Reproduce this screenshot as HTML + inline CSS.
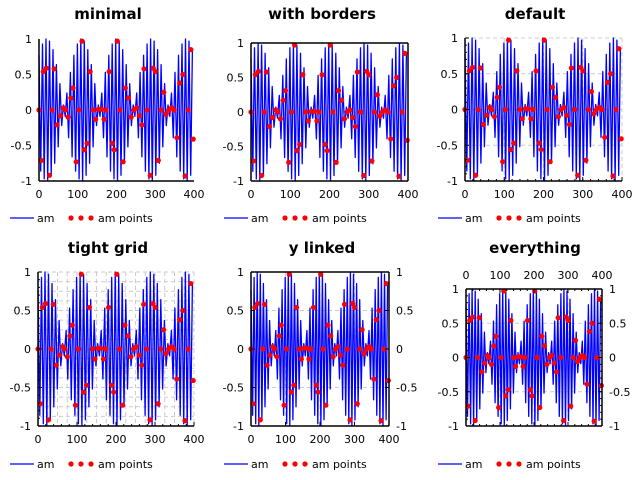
<!DOCTYPE html>
<html><head><meta charset="utf-8"><style>
html,body{margin:0;padding:0;background:#fff;}
svg{display:block;font-family:"DejaVu Sans","Liberation Sans",sans-serif;}
</style></head><body>
<svg id="c" width="640" height="480" xmlns="http://www.w3.org/2000/svg"></svg>
<script>
const xTicks=[0,100,200,300,400];
const yTicks=[-1,-0.5,0,0.5,1];
const yTickLabels=["-1","-0.5","0","0.5","1"];
const lineStep=4.5;
const amValues=[
0.77,-0.86,0.93,-0.97,1,-1,0.97,-0.92,0.85,-0.75,0.64,-0.52,0.37,-0.22,0.07,-0.09,0.24,-0.39,0.53,-0.66,
0.77,-0.86,0.93,-0.97,1,-1,0.97,-0.92,0.85,-0.75,0.64,-0.52,0.37,-0.22,0.07,-0.09,0.24,-0.39,0.53,-0.66,
0.77,-0.86,0.93,-0.97,1,-1,0.97,-0.92,0.85,-0.75,0.64,-0.52,0.37,-0.22,0.07,-0.09,0.24,-0.39,0.53,-0.66,
0.77,-0.86,0.93,-0.97,1,-1,0.97,-0.92,0.85,-0.75,0.64,-0.52,0.37,-0.22,0.07,-0.09,0.24,-0.39,0.53,-0.66,
0.77,-0.86,0.93,-0.97,1,-1,0.97,-0.92,0.85];
const pointX=[0,6,11,19,27,34,39,47,55,63,68,75,82,88,96,103,111,117,124,132,140,146,154,161,168,173,181,189,194,202,209,217,223,231,238,245,252,259,266,271,279,287,295,300,308,315,322,328,335,342,349,356,363,371,377,385,392,398];
const pointY=[0,-0.71,0.54,0.59,-0.92,0,0.58,-0.21,-0.08,0.03,0,-0.1,0.17,0.31,-0.73,0,0.97,-0.56,-0.47,0.54,0,-0.13,0.01,0.01,-0.13,0,0.54,-0.47,-0.56,0.97,0,-0.73,0.31,0.17,-0.1,0,0.03,-0.08,-0.21,0.58,0,-0.92,0.59,0.54,-0.71,0,0.25,-0.06,0,0.03,0,-0.39,0.38,0.5,-0.93,0,0.85,-0.41];

const svg=document.getElementById('c');
const NS='http://www.w3.org/2000/svg';
function mk(tag,attrs,parent,text){const e=document.createElementNS(NS,tag);for(const k in attrs)e.setAttribute(k,attrs[k]);if(text!==undefined)e.textContent=text;(parent||svg).appendChild(e);return e;}

const panels=[
 {name:'minimal',title:'minimal',x0:39,x1:194,y0:39,y1:181,cx:108,ty:19,ly:218,lx:0,border:false,grid:false,ticks:false,right:false,top:false,minor:false,bottom:true},
 {name:'with-borders',title:'with borders',x0:251,x1:408,y0:43,y1:181,cx:322,ty:19,ly:218,lx:214,border:true,grid:false,ticks:false,right:false,top:false,minor:false,bottom:true},
 {name:'default',title:'default',x0:465,x1:622,y0:38,y1:181,cx:535,ty:19,ly:218,lx:428,border:false,grid:true,ticks:true,right:false,top:false,minor:true,bottom:true},
 {name:'tight-grid',title:'tight grid',x0:38,x1:194,y0:272,y1:426,cx:108,ty:253,ly:464,lx:0,border:false,grid:true,ticks:true,right:false,top:false,minor:true,tight:true,bottom:true},
 {name:'y-linked',title:'y linked',x0:251,x1:389,y0:272,y1:426,cx:322,ty:253,ly:464,lx:214,border:true,grid:true,ticks:true,right:true,top:false,minor:false,bottom:true},
 {name:'everything',title:'everything',x0:466,x1:602,y0:289,y1:426,cx:535,ty:253,ly:464,lx:428,border:true,grid:true,ticks:true,right:true,top:true,minor:true,bottom:false}
];

panels.forEach(p=>{
 const g=mk('g',{});
 
 
 const sx=v=>p.x0+(v-0)/400*(p.x1-p.x0);
 const sy=v=>p.y1-(v+1)/2*(p.y1-p.y0);
 const t=mk('text',{x:p.cx,y:p.ty,'text-anchor':'middle','font-size':'15','font-weight':'bold',fill:'#000'},g,p.title);
 
 
 if(p.grid){
  const gg=mk('g',{stroke:'#ccc','stroke-width':'1','stroke-dasharray':'4,3'},g);
  
  
  const xs=p.tight?[25,50,75,100,125,150,175,200,225,250,275,300,325,350,375,400]:[100,200,300,400];
  const ys=p.tight?[-0.875,-0.75,-0.625,-0.5,-0.375,-0.25,-0.125,0,0.125,0.25,0.375,0.5,0.625,0.75,0.875,1]:[-0.5,0,0.5,1];
  xs.forEach(v=>mk('line',{x1:sx(v),x2:sx(v),y1:p.y0,y2:p.y1},gg));
  ys.forEach(v=>mk('line',{x1:p.x0,x2:p.x1,y1:sy(v),y2:sy(v)},gg));
 }
 let d='';
 amValues.forEach((v,i)=>{d+=(i?'L':'M')+sx(i*lineStep).toFixed(1)+','+sy(v).toFixed(1);});
 const ln=mk('path',{d:d,fill:'none',stroke:'#0000ff','stroke-width':'1.3','stroke-linejoin':'round'},g);
 
 
 const pg=mk('g',{fill:'#ff0000'},g);
 
 
 pointX.forEach((x,i)=>{const c=mk('circle',{cx:sx(x),cy:sy(pointY[i]),r:2.6},pg);
  
  });
 const ax=mk('g',{stroke:'#000','stroke-width':'1.5',fill:'none'},g);
 
 
 mk('line',{x1:p.x0,x2:p.x0,y1:p.y0,y2:p.y1},ax);
 mk('line',{x1:p.x0,x2:p.x1,y1:p.y1,y2:p.y1},ax);
 if(p.border){mk('line',{x1:p.x1,x2:p.x1,y1:p.y0,y2:p.y1},ax);mk('line',{x1:p.x0,x2:p.x1,y1:p.y0,y2:p.y0},ax);}
 if(p.ticks){
  const tk=mk('g',{stroke:'#000','stroke-width':'1'},g);
  xTicks.forEach(v=>{mk('line',{x1:sx(v),x2:sx(v),y1:p.y1,y2:p.y1-4},tk);if(p.top)mk('line',{x1:sx(v),x2:sx(v),y1:p.y0,y2:p.y0+4},tk);});
  yTicks.forEach(v=>{mk('line',{x1:p.x0,x2:p.x0+4,y1:sy(v),y2:sy(v)},tk);if(p.right)mk('line',{x1:p.x1,x2:p.x1-4,y1:sy(v),y2:sy(v)},tk);});
  if(p.minor){
   for(let v=0;v<=400;v+=20){mk('line',{x1:sx(v),x2:sx(v),y1:p.y1,y2:p.y1-2},tk);if(p.top)mk('line',{x1:sx(v),x2:sx(v),y1:p.y0,y2:p.y0+2},tk);}
   for(let v=-1;v<=1;v+=0.1){mk('line',{x1:p.x0,x2:p.x0+2,y1:sy(v),y2:sy(v)},tk);if(p.top)mk('line',{x1:p.x1,x2:p.x1-2,y1:sy(v),y2:sy(v)},tk);}
  }
 }
 const lab=mk('g',{'font-size':'11',fill:'#000'},g);
 
 
 xTicks.forEach(v=>{if(p.bottom)mk('text',{x:sx(v),y:p.y1+17,'text-anchor':'middle'},lab,String(v));
  if(p.top)mk('text',{x:sx(v),y:p.y0-10,'text-anchor':'middle'},lab,String(v));});
 yTicks.forEach((v,i)=>{mk('text',{x:p.x0-7,y:sy(v)+4,'text-anchor':'end'},lab,yTickLabels[i]);
  if(p.right)mk('text',{x:p.x1+7,y:sy(v)+4,'text-anchor':'start'},lab,yTickLabels[i]);});
 const lg=mk('g',{},g);
 
 
 const l1=mk('line',{x1:p.lx+10,x2:p.lx+34,y1:p.ly,y2:p.ly,stroke:'#0000ff','stroke-width':'1.3'},lg);
 
 
 mk('text',{x:p.lx+37,y:p.ly+4,'font-size':'11'},lg,'am');
 [71,81,91].forEach(dx=>mk('circle',{cx:p.lx+dx,cy:p.ly,r:2.6,fill:'#ff0000'},lg));
 const t2=mk('text',{x:p.lx+98,y:p.ly+4,'font-size':'11'},lg,'am points');
 
 
});
</script>
</body></html>
